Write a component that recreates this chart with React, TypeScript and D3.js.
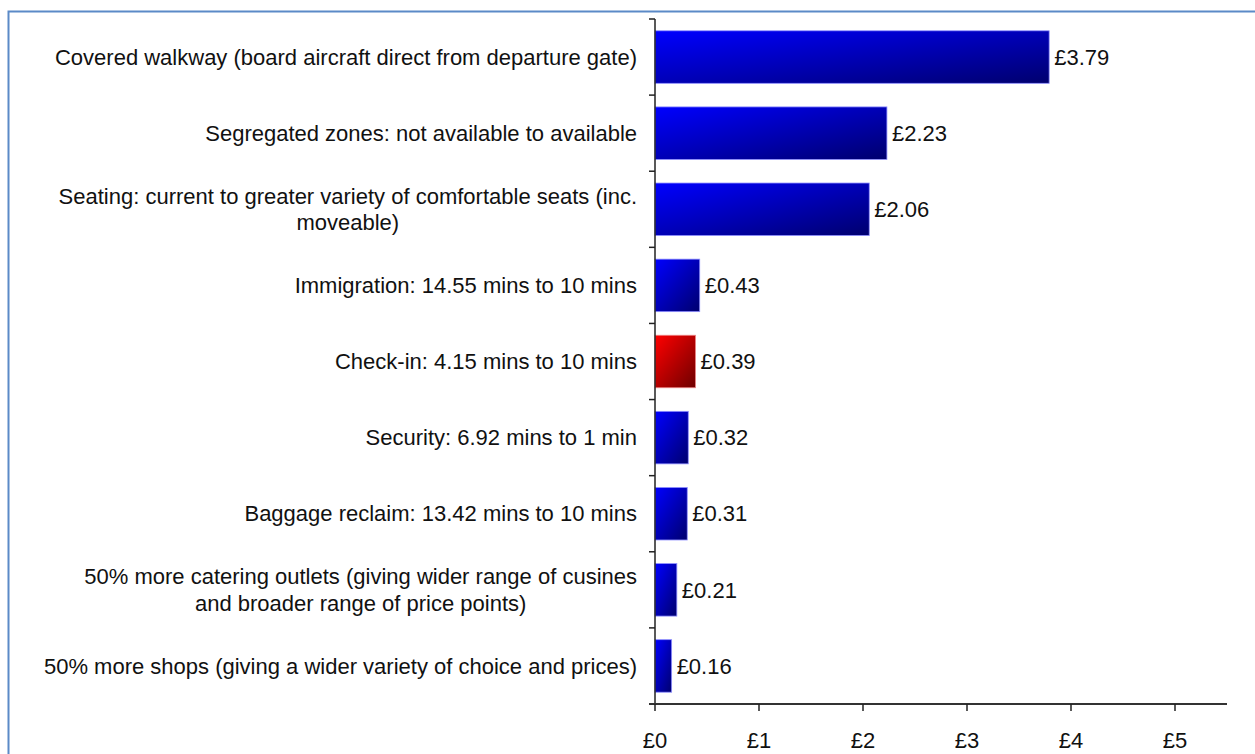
import React, { useEffect, useRef } from "react";
import * as d3 from "d3";

const categories: string[] = [
  "Covered walkway (board aircraft direct from departure gate)",
  "Segregated zones: not available to available",
  "Seating: current to greater variety of comfortable seats (inc.\nmoveable)",
  "Immigration: 14.55 mins to 10 mins",
  "Check-in: 4.15 mins to 10 mins",
  "Security: 6.92 mins to 1 min",
  "Baggage reclaim: 13.42 mins to 10 mins",
  "50% more catering outlets (giving wider range of cusines\nand broader range of price points)",
  "50% more shops (giving a wider variety of choice and prices)",
];
const values: number[] = [3.79, 2.23, 2.06, 0.43, 0.39, 0.32, 0.31, 0.21, 0.16];
const highlighted: boolean[] = [false, false, false, false, true, false, false, false, false];
const xTicks: number[] = [0, 1, 2, 3, 4, 5];

const FONT = "'Liberation Sans', Arial, sans-serif";
const FS = 22;

export default function App() {
  const ref = useRef<SVGSVGElement | null>(null);

  useEffect(() => {
    const svg = d3.select(ref.current);
    svg.selectAll("*").remove();

    const left = 655, right = 1227, top = 19, bottom = 704;

    const defs = svg.append("defs");
    const gb = defs.append("linearGradient").attr("id", "gBlue")
      .attr("x1", "0%").attr("y1", "0%").attr("x2", "100%").attr("y2", "100%");
    gb.append("stop").attr("offset", "0%").attr("stop-color", "#0000ff");
    gb.append("stop").attr("offset", "100%").attr("stop-color", "#00006e");
    const gr = defs.append("linearGradient").attr("id", "gRed")
      .attr("x1", "0%").attr("y1", "0%").attr("x2", "100%").attr("y2", "100%");
    gr.append("stop").attr("offset", "0%").attr("stop-color", "#ff0000");
    gr.append("stop").attr("offset", "100%").attr("stop-color", "#6e0000");

    svg.append("rect").attr("width", 1255).attr("height", 754).attr("fill", "#fff");
    svg.append("rect").attr("x", 8.5).attr("y", 11.5).attr("width", 1400).attr("height", 900)
      .attr("fill", "none").attr("stroke", "#5b8ac7").attr("stroke-width", 2);

    const x = d3.scaleLinear().domain([0, 5.5]).range([left, right]);
    const y = d3.scaleBand<number>().domain(d3.range(categories.length)).range([top, bottom])
      .paddingInner(0.31).paddingOuter(0.155);
    const yb = d3.scaleBand<number>().domain(d3.range(categories.length)).range([top, bottom]);

    const g = svg.append("g");

    g.selectAll("rect.bar").data(values).join("rect").attr("class", "bar")
      .attr("x", x(0)).attr("y", (_, i) => y(i)!)
      .attr("width", (d) => x(d) - x(0)).attr("height", y.bandwidth())
      .attr("fill", (_, i) => (highlighted[i] ? "url(#gRed)" : "url(#gBlue)"))
      .attr("stroke", (_, i) => (highlighted[i] ? "#e88" : "#8f8fff"))
      .attr("stroke-width", 0.8);

    g.selectAll("text.val").data(values).join("text").attr("class", "val")
      .attr("x", (d) => x(d) + 5).attr("y", (_, i) => y(i)! + y.bandwidth() / 2)
      .attr("dy", "0.35em").attr("font-family", FONT).attr("font-size", FS).attr("fill", "#111")
      .text((d) => "£" + d.toFixed(2));

    g.append("line").attr("x1", left).attr("x2", left).attr("y1", top).attr("y2", bottom)
      .attr("stroke", "#222").attr("stroke-width", 1.5);
    const yTickPos = d3.range(categories.length + 1).map((i) => top + i * yb.step());
    g.selectAll("line.yt").data(yTickPos).join("line").attr("class", "yt")
      .attr("x1", left - 6).attr("x2", left).attr("y1", (d) => d).attr("y2", (d) => d)
      .attr("stroke", "#222").attr("stroke-width", 1.5);

    g.append("line").attr("x1", left - 6).attr("x2", right).attr("y1", bottom).attr("y2", bottom)
      .attr("stroke", "#333").attr("stroke-width", 2);
    g.selectAll("line.xt").data(xTicks).join("line").attr("class", "xt")
      .attr("x1", (d) => x(d)).attr("x2", (d) => x(d)).attr("y1", bottom).attr("y2", bottom + 7)
      .attr("stroke", "#222").attr("stroke-width", 1.5);
    g.selectAll("text.xl").data(xTicks).join("text").attr("class", "xl")
      .attr("x", (d) => x(d)).attr("y", 740).attr("dy", "0.35em").attr("text-anchor", "middle")
      .attr("font-family", FONT).attr("font-size", FS).attr("fill", "#111")
      .text((d) => "£" + d);

    const lineH = 26.5;
    categories.forEach((c, i) => {
      const lines = c.split("\n");
      const cy = yb(i)! + yb.bandwidth() / 2;
      const t = g.append("text").attr("font-family", FONT).attr("font-size", FS).attr("fill", "#111");
      const tspans = lines.map((l, k) =>
        t.append("tspan").attr("y", cy + (k - (lines.length - 1) / 2) * lineH).attr("dy", "0.35em").text(l)
      );
      const widths = tspans.map((s) => (s.node() as SVGTSpanElement).getComputedTextLength());
      const maxW = Math.max(...widths);
      const rightEdge = 637;
      tspans.forEach((s) => {
        s.attr("x", rightEdge - maxW / 2).attr("text-anchor", "middle");
      });
    });
  }, []);

  return (
    <div style={{ position: "absolute", left: 0, top: 0 }}>
      <svg ref={ref} width={1255} height={754} style={{ display: "block" }} />
    </div>
  );
}
